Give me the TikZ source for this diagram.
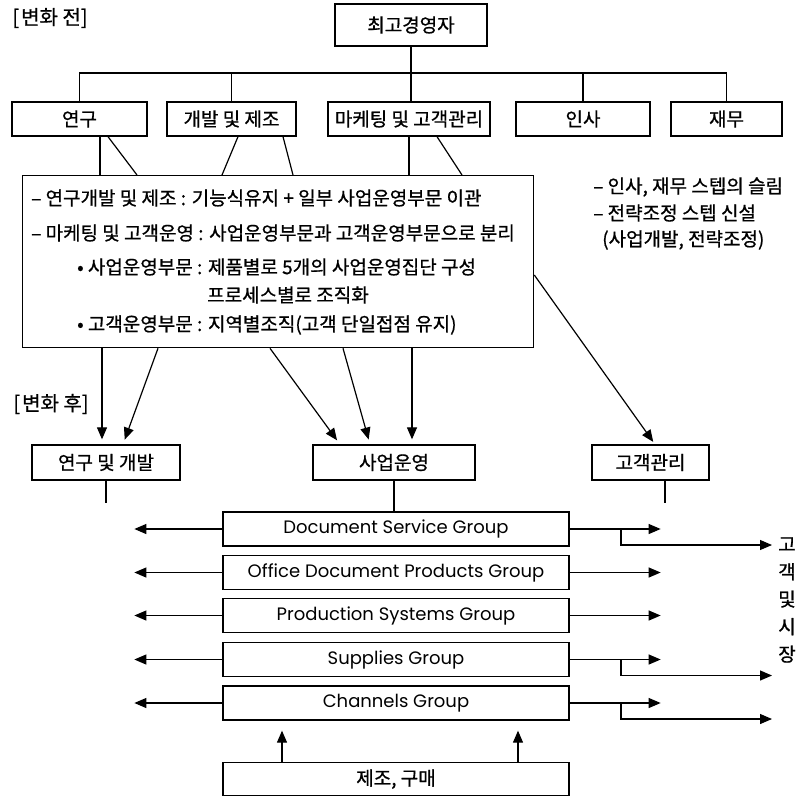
\documentclass[tikz,border=0pt]{standalone}
\usepackage{fontspec}
\setmainfont{Noto Sans CJK KR}[FakeBold=0.8]
\newfontfamily\grpfont{Poppins}
\usetikzlibrary{arrows.meta,calc}
\begin{document}
\begin{tikzpicture}[x=1pt,y=-1pt,
  every node/.style={font=\fontsize{19}{21}\selectfont},
  box/.style={draw, line width=1.3pt, inner sep=0pt},
  ln/.style={line width=1.2pt},
  arr/.style={line width=1.2pt, -{Triangle[length=12pt,width=10pt]}},
  grp/.style={box, minimum width=346pt, minimum height=34pt, font=\grpfont\fontsize{18}{20}\selectfont},
  txt/.style={anchor=west, inner sep=0pt}
]
\useasboundingbox (0,0) rectangle (800,796);
\coordinate (bus) at (0,73);
% labels
\node[inner sep=0pt, font=\fontsize{20}{22}\selectfont] (before) at (50,18) {[\hspace{2pt}변화 전]};
\node[inner sep=0pt, font=\fontsize{20}{22}\selectfont] (after) at (51,404) {[\hspace{2pt}변화 후]};
% top
\node[box, minimum width=152pt, minimum height=42pt] (ceo) at (411,25) {최고경영자};
\node[box, minimum width=135pt, minimum height=34pt] (yg) at (79.5,119) {연구};
\node[box, minimum width=129pt, minimum height=34pt] (gj) at (231.5,119) {개발 및 제조};
\node[box, minimum width=162pt, minimum height=34pt] (mk) at (409,119) {마케팅 및 고객관리};
\node[box, minimum width=134pt, minimum height=34pt] (is) at (583,119) {인사};
\node[box, minimum width=111pt, minimum height=34pt] (jm) at (726.5,119) {재무};
\draw[ln] (ceo.south) -- (ceo.south |- mk.north);
\draw[ln] (yg.north) -- (yg.north |- bus) -- (jm.north |- bus) -- (jm.north);
\draw[ln] (gj.north) -- (gj.north |- bus);
\draw[ln] (is.north) -- (is.north |- bus);
% text box
\node[box, minimum width=511pt, minimum height=172pt, anchor=north west] (tb) at (22,175) {};
\node[txt] (t1) at (31,198) {– 연구개발 및 제조 : 기능식유지 + 일부 사업운영부문 이관};
\node[txt] (t2) at (31,233) {– 마케팅 및 고객운영 : 사업운영부문과 고객운영부문으로 분리};
\node[txt] (t3) at (77,267) {• 사업운영부문 : 제품별로 5개의 사업운영집단 구성};
\node[txt] (t4) at (207,295) {프로세스별로 조직화};
\node[txt] (t5) at (77,325) {• 고객운영부문 : 지역별조직(고객 단일접점 유지)};
\node[txt] (n1) at (593,187) {– 인사, 재무 스텝의 슬림};
\node[txt] (n2) at (593,213) {– 전략조정 스텝 신설};
\node[txt] (n3) at (602,240) {(사업개발, 전략조정)};
\draw[ln] (yg.south -| 100,0) -- (tb.north -| 100,0);
\draw[ln] (yg.south -| 108,0) -- (tb.north -| 137,0);
\draw[ln] (gj.south -| 238,0) -- (tb.north -| 222,0);
\draw[ln] (gj.south -| 283,0) -- (tb.north -| 293,0);
\draw[ln] (mk.south) -- (tb.north -| mk.south);
\draw[ln] (mk.south -| 437,0) -- (tb.north -| 462,0);
% after boxes
\node[box, minimum width=148pt, minimum height=35pt] (rd) at (106,462.5) {연구 및 개발};
\node[box, minimum width=162pt, minimum height=35pt] (sy) at (394,462.5) {사업운영};
\node[box, minimum width=117pt, minimum height=35pt] (gk) at (650.5,462.5) {고객관리};
\draw[arr, shorten >=5pt] (tb.south -| 102,0) -- (rd.north -| 102,0);
\draw[arr, shorten >=5pt] (tb.south -| 158,0) -- (rd.north -| 123,0);
\draw[arr, shorten >=5pt] (tb.south -| 270,0) -- (sy.north -| 340,0);
\draw[arr, shorten >=5pt] (tb.south -| 343,0) -- (sy.north -| 370,0);
\draw[arr, shorten >=5pt] (tb.south -| 412,0) -- (sy.north -| 412,0);
\draw[arr, shorten >=3pt] (tb.east |- 0,275) -- (gk.north -| 655,0);
% groups
\node[grp] (g1) at (396,529) {Document Service Group};
\node[grp] (g2) at (396,572.5) {Office Document Products Group};
\node[grp] (g3) at (396,615.5) {Production Systems Group};
\node[grp] (g4) at (396,659.5) {Supplies Group};
\node[grp] (g5) at (396,703) {Channels Group};
\draw[ln] (rd.south) -- ++(0,22);
\draw[ln] (gk.south -| 665,0) -- ++(0,22);
\draw[ln] (sy.south) -- (sy.south |- g1.north);
\foreach \g in {g1,g2,g3,g4,g5}{
  \draw[arr] (\g.west) -- ++(-88,0);
  \draw[arr] (\g.east) -- ++(91,0);
}
\foreach \g in {g1,g4,g5}{
  \draw[arr] (\g.east -| 621,0) -- ++(0,16) -- ++(151,0);
}
\node[align=center, inner sep=0pt, font=\fontsize{19}{27.5}\selectfont] (mkt) at (787,600) {고\\객\\및\\시\\장};
% bottom
\node[box, minimum width=346pt, minimum height=33pt, anchor=north] (mf) at (396,762) {제조, 구매};
\draw[arr, shorten >=10pt] (mf.north -| 282,0) -- (g5.south -| 282,0);
\draw[arr, shorten >=10pt] (mf.north -| 518,0) -- (g5.south -| 518,0);
\end{tikzpicture}
\end{document}
